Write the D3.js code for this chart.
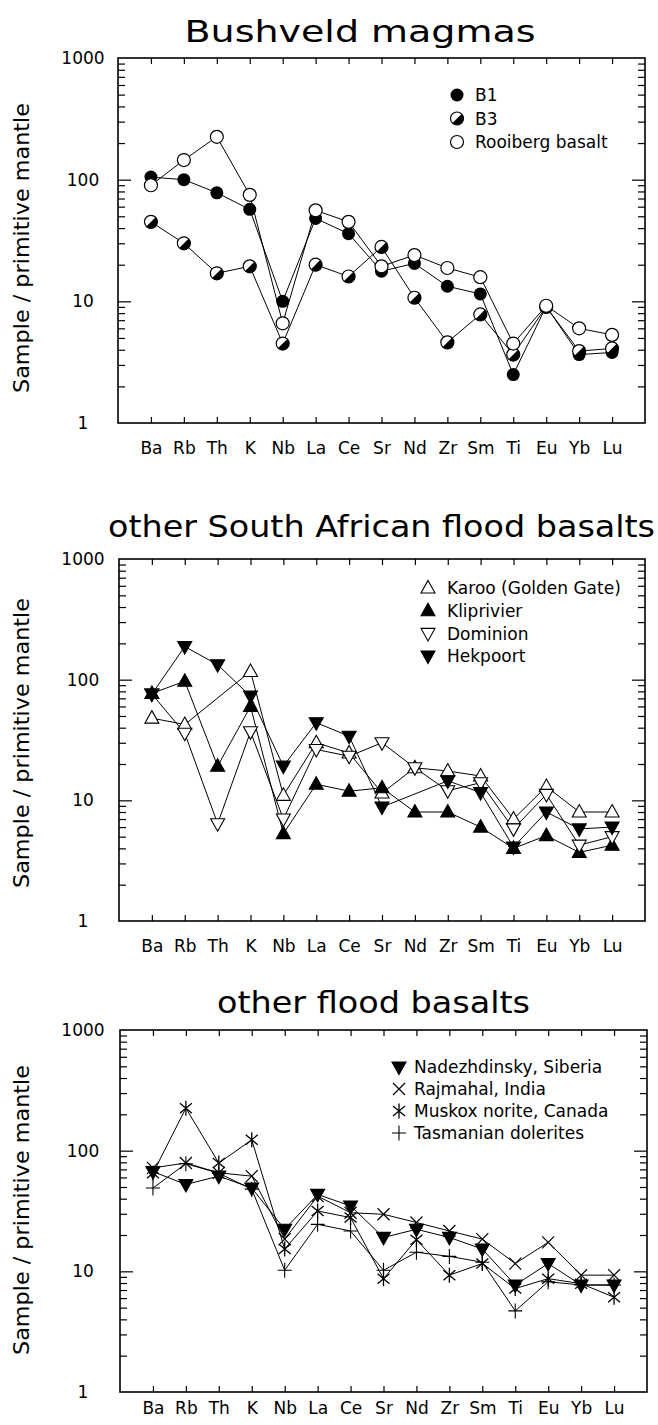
<!DOCTYPE html>
<html>
<head>
<meta charset="utf-8">
<script src="https://cdn.jsdelivr.net/npm/d3@7"></script>
<style>
  html, body { margin: 0; padding: 0; background: #fff; }
  svg { display: block; font-family: "DejaVu Sans", sans-serif; }
</style>
</head>
<body>
<div id="chart"></div>
<script>
// spider diagram data, normalised to primitive mantle
const elements = ["Ba", "Rb", "Th", "K", "Nb", "La", "Ce", "Sr", "Nd", "Zr", "Sm", "Ti", "Eu", "Yb", "Lu"];
const yTicks = [1, 10, 100, 1000];

// Bushveld magmas
const b1 = [105, 100, 78, 57, 10, 48, 36, 17.7, 20.5, 13.3, 11.5, 2.5, 9.1, 3.65, 3.8];
const b3 = [45, 30, 17, 19.4, 4.5, 20, 16, 28, 10.7, 4.6, 7.8, 3.65, 9, 3.9, 4.1];
const rooiberg = [90, 145, 225, 75, 6.6, 56, 45, 19.4, 24, 18.8, 15.8, 4.5, 9.2, 6, 5.3];

// other South African flood basalts (null = not plotted)
const karoo = [48, 42.5, null, 117, 11, 30, 24.7, 11.5, 18.6, 17.5, 15.9, 7, 13, 8, 8];
const kliprivier = [77, 97, 19.2, 60, 5.3, 13.6, 11.9, 12.7, 8, 8, 6, 4, 5.1, 3.7, 4.25];
const dominion = [76, 36, 6.4, 37, 7, 26.4, 23.2, 30, 18.6, 12, 14, 5.8, 11.2, 4.25, 5];
const hekpoort = [76, 188, 133, 73, 19.2, 44, 34, 8.8, null, 14.5, 11.6, 4.1, 8, 5.8, 6];

// other flood basalts
const nadezhdinsky = [67, 52.5, 61.5, 49, 22.3, 43.4, 34.8, 19.1, 22.3, 19.1, 15.3, 7.7, 11.6, 7.7, 7.7];
const rajmahal = [72, 79, 65.5, 61.5, 18.5, 42, 30.6, 29.7, 25.4, 21.6, 18.5, 11.6, 17.4, 9.3, 9.3];
const muskox = [65, 225, 79, 123, 15.3, 31.6, 27.9, 8.7, 18.3, 9.3, 11.6, 7.2, 8.7, 7.9, 6.1];
const tasmanian = [49, 78, 65, 48, 10.2, 24.5, 21.6, 10.2, 14.4, 13.3, 11.9, 4.7, 8.2, 7.7, 7.7];

const W = 658, H = 1425;

const panels = [
    {
        title: "Bushveld magmas", titleX: 360, titleY: 42, titleW: 351,
        left: 118, right: 645, top: 58, bottom: 423, yTitleY: 248, labelPad: 19,
        legend: { mx: 457, tx: 475, y: 95, dy: 23.5 },
        series: [
            { name: "B1", values: b1, marker: "dot" },
            { name: "B3", values: b3, marker: "half" },
            { name: "Rooiberg basalt", values: rooiberg, marker: "circle" }
        ]
    },
    {
        title: "other South African flood basalts", titleX: 381.5, titleY: 537, titleW: 547,
        left: 119, right: 645, top: 559, bottom: 921, yTitleY: 743, labelPad: 19,
        legend: { mx: 428, tx: 447, y: 588, dy: 22.7 },
        series: [
            { name: "Karoo (Golden Gate)", values: karoo, marker: "triUpOpen" },
            { name: "Kliprivier", values: kliprivier, marker: "triUp" },
            { name: "Dominion", values: dominion, marker: "triDownOpen" },
            { name: "Hekpoort", values: hekpoort, marker: "triDown" }
        ]
    },
    {
        title: "other flood basalts", titleX: 373.5, titleY: 1013, titleW: 313,
        left: 120, right: 647, top: 1030, bottom: 1392, yTitleY: 1210, labelPad: 10,
        legend: { mx: 399, tx: 414, y: 1067, dy: 22 },
        series: [
            { name: "Nadezhdinsky, Siberia", values: nadezhdinsky, marker: "triDown" },
            { name: "Rajmahal, India", values: rajmahal, marker: "cross" },
            { name: "Muskox norite, Canada", values: muskox, marker: "star" },
            { name: "Tasmanian dolerites", values: tasmanian, marker: "plus" }
        ]
    }
];

const svg = d3.select("#chart").append("svg")
    .attr("width", W)
    .attr("height", H)
    .attr("viewBox", [0, 0, W, H]);

// draw one symbol into a group already translated to the point
function addMarker(g, type) {
    const r = 6.5, a = r / Math.SQRT2;
    if (type === "dot") {
        g.append("circle").attr("r", r).attr("fill", "#000");
    } else if (type === "circle") {
        g.append("circle").attr("r", r).attr("fill", "#fff").attr("stroke", "#000").attr("stroke-width", 1.2);
    } else if (type === "half") {
        g.append("circle").attr("r", r).attr("fill", "#fff").attr("stroke", "#000").attr("stroke-width", 1.2);
        g.append("path").attr("d", `M${a},${-a}A${r},${r} 0 0 1 ${-a},${a}Z`).attr("fill", "#000");
    } else if (type.startsWith("tri")) {
        const up = type.startsWith("triUp");
        const d = up ? "M0,-7.5L7,5L-7,5Z" : "M0,7.5L7,-5L-7,-5Z";
        const open = type.endsWith("Open");
        g.append("path").attr("d", d)
            .attr("fill", open ? "#fff" : "#000")
            .attr("stroke", "#000").attr("stroke-width", 1.1)
            .attr("stroke-linejoin", "miter");
    } else if (type === "cross") {
        g.append("path").attr("d", "M-6,-6L6,6M-6,6L6,-6").attr("stroke", "#000").attr("stroke-width", 1.2);
    } else if (type === "star") {
        g.append("path").attr("d", "M-6,-5L6,5M-6,5L6,-5M0,-7.5V7.5").attr("stroke", "#000").attr("stroke-width", 1.3);
    } else if (type === "plus") {
        g.append("path").attr("d", "M-7,0H7M0,-7.5V7.5").attr("stroke", "#000").attr("stroke-width", 1.1);
    }
}

const minorTicks = [];
[1, 10, 100].forEach(base => { for (let k = 2; k <= 9; k++) minorTicks.push(base * k); });

panels.forEach(p => {
    const x = d3.scalePoint().domain(elements).range([p.left, p.right]).padding(1);
    const y = d3.scaleLog().domain([1, 1000]).range([p.bottom, p.top]);

    const g = svg.append("g");

    // title
    g.append("text")
        .attr("x", p.titleX).attr("y", p.titleY)
        .attr("text-anchor", "middle")
        .attr("font-size", 31)
        .attr("textLength", p.titleW)
        .attr("lengthAdjust", "spacingAndGlyphs")
        .text(p.title);

    // y axis title
    g.append("text")
        .attr("transform", `translate(22,${p.yTitleY}) rotate(-90)`)
        .attr("text-anchor", "middle")
        .attr("dy", "0.35em")
        .attr("font-size", 21)
        .attr("textLength", 290)
        .attr("lengthAdjust", "spacingAndGlyphs")
        .text("Sample / primitive mantle");

    // ticks: inward on all four sides
    const clean = s => { s.select(".domain").remove(); s.selectAll("text").remove(); s.selectAll("line").attr("stroke", "#000").attr("stroke-width", 1.2); };
    g.append("g").attr("transform", `translate(${p.left},0)`)
        .call(d3.axisLeft(y).tickValues(minorTicks).tickSize(-7)).call(clean);
    g.append("g").attr("transform", `translate(${p.left},0)`)
        .call(d3.axisLeft(y).tickValues([10, 100]).tickSize(-13)).call(clean);
    g.append("g").attr("transform", `translate(${p.right},0)`)
        .call(d3.axisRight(y).tickValues(minorTicks).tickSize(-7)).call(clean);
    g.append("g").attr("transform", `translate(${p.right},0)`)
        .call(d3.axisRight(y).tickValues([10, 100]).tickSize(-13)).call(clean);
    g.append("g").attr("transform", `translate(0,${p.top})`)
        .call(d3.axisTop(x).tickSize(-6)).call(clean);

    const xAxis = g.append("g").attr("transform", `translate(0,${p.bottom})`)
        .call(d3.axisBottom(x).tickSize(-6).tickPadding(p.labelPad));
    xAxis.select(".domain").remove();
    xAxis.selectAll("line").attr("stroke", "#000").attr("stroke-width", 1.2);
    xAxis.selectAll("text")
        .attr("font-family", "DejaVu Sans, sans-serif")
        .attr("font-size", 17)
        .attr("fill", "#000");

    // y tick labels, centred under each other like the original
    g.selectAll(".ylab").data(yTicks).join("text")
        .attr("x", 83).attr("y", d => y(d))
        .attr("dy", "0.36em")
        .attr("text-anchor", "middle")
        .attr("font-size", 17)
        .text(d => d);

    // frame
    g.append("rect")
        .attr("x", p.left).attr("y", p.top)
        .attr("width", p.right - p.left).attr("height", p.bottom - p.top)
        .attr("fill", "none").attr("stroke", "#000").attr("stroke-width", 1.6);

    const pts = s => elements.map((e, i) => ({ e, v: s.values[i] })).filter(d => d.v != null);

    const line = d3.line().x(d => x(d.e)).y(d => y(d.v));

    // lines first, then symbols on top
    p.series.forEach(s => {
        g.append("path")
            .attr("d", line(pts(s)))
            .attr("fill", "none")
            .attr("stroke", "#000")
            .attr("stroke-width", 1);
    });
    p.series.forEach(s => {
        pts(s).forEach(d => {
            const m = g.append("g").attr("transform", `translate(${x(d.e)},${y(d.v)})`);
            addMarker(m, s.marker);
        });
    });

    // legend
    p.series.forEach((s, i) => {
        const ly = p.legend.y + i * p.legend.dy;
        addMarker(g.append("g").attr("transform", `translate(${p.legend.mx},${ly})`), s.marker);
        g.append("text")
            .attr("x", p.legend.tx).attr("y", ly)
            .attr("dy", "0.36em")
            .attr("font-size", 17)
            .text(s.name);
    });
});
</script>
</body>
</html>
